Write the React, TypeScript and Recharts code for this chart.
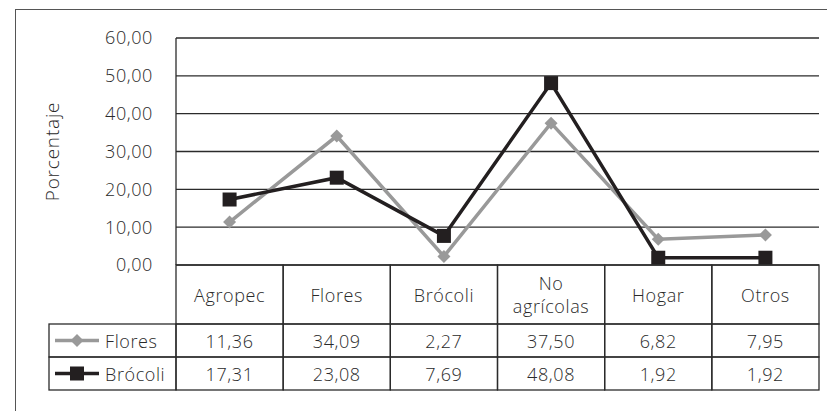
import { CartesianGrid, Line, LineChart, XAxis, YAxis } from "recharts";

const categories = ["Agropec", "Flores", "Brócoli", "No agrícolas", "Hogar", "Otros"];
const floresValues = [11.36, 34.09, 2.27, 37.5, 6.82, 7.95];
const brocoliValues = [17.31, 23.08, 7.69, 48.08, 1.92, 1.92];
const yTicks = [0, 10, 20, 30, 40, 50, 60];

const series = [
  { key: "flores", name: "Flores", values: floresValues, color: "#999999", marker: "diamond" },
  { key: "brocoli", name: "Brócoli", values: brocoliValues, color: "#231f20", marker: "square" }
];

const data = categories.map((label, i) => ({
  label,
  flores: floresValues[i],
  brocoli: brocoliValues[i]
}));

const WIDTH = 827;
const HEIGHT = 411;
const PLOT_LEFT = 176;
const PLOT_TOP = 38;
const PLOT_RIGHT = 8;
const PLOT_BOTTOM = 265;
const PLOT_W = WIDTH - PLOT_LEFT - PLOT_RIGHT;
const COL_W = PLOT_W / categories.length;
const HEADER_H = 59;
const ROW_H = 33;
const LEGEND_W = 127;
const LINE = "#2b2b2b";
const TEXT = "#2a2a2a";
const FONT = 18;
const SPACING = 0.6;

const fmt = (v: number) => v.toFixed(2).replace(".", ",");

const textStyle = { fontSize: FONT, fill: TEXT, letterSpacing: SPACING, fontWeight: 300 };

function Diamond({ cx, cy, color, r = 6.5 }: { cx: number; cy: number; color: string; r?: number }) {
  return (
    <polygon
      points={`${cx},${cy - r} ${cx + r},${cy} ${cx},${cy + r} ${cx - r},${cy}`}
      fill={color}
    />
  );
}

function Square({ cx, cy, color, s = 14 }: { cx: number; cy: number; color: string; s?: number }) {
  return <rect x={cx - s / 2} y={cy - s / 2} width={s} height={s} fill={color} />;
}

function Marker({ type, cx, cy, color }: { type: string; cx: number; cy: number; color: string }) {
  return type === "diamond" ? <Diamond cx={cx} cy={cy} color={color} /> : <Square cx={cx} cy={cy} color={color} />;
}

// each x tick draws its own column of the data table; the first one also draws the legend column
function TableColumn(props: any) {
  const { x, index, payload } = props;
  const left = x - COL_W / 2;
  const top = PLOT_BOTTOM;
  const words = String(payload.value).split(" ");
  const headerMid = top + HEADER_H / 2;

  return (
    <g>
      <rect x={left} y={top} width={COL_W} height={HEADER_H} fill="none" stroke={LINE} strokeWidth={1.3} />
      {words.map((w, j) => (
        <text
          key={w}
          x={x}
          y={headerMid + (j - (words.length - 1) / 2) * 23}
          textAnchor="middle"
          dominantBaseline="central"
          style={textStyle}
        >
          {w}
        </text>
      ))}
      {series.map((s, r) => {
        const rowTop = top + HEADER_H + r * ROW_H;
        const mid = rowTop + ROW_H / 2;
        return (
          <g key={s.key}>
            <rect x={left} y={rowTop} width={COL_W} height={ROW_H} fill="none" stroke={LINE} strokeWidth={1.3} />
            <text x={x} y={mid} textAnchor="middle" dominantBaseline="central" style={textStyle}>
              {fmt(s.values[index])}
            </text>
            {index === 0 && (
              <g>
                <rect
                  x={left - LEGEND_W}
                  y={rowTop}
                  width={LEGEND_W}
                  height={ROW_H}
                  fill="none"
                  stroke={LINE}
                  strokeWidth={1.3}
                />
                <line
                  x1={left - LEGEND_W + 6}
                  x2={left - LEGEND_W + 50}
                  y1={mid}
                  y2={mid}
                  stroke={s.color}
                  strokeWidth={3.5}
                />
                <Marker type={s.marker} cx={left - LEGEND_W + 28} cy={mid} color={s.color} />
                <text x={left - LEGEND_W + 56} y={mid} dominantBaseline="central" style={textStyle}>
                  {s.name}
                </text>
              </g>
            )}
          </g>
        );
      })}
    </g>
  );
}

export default function App() {
  return (
    <div
      style={{
        position: "fixed",
        left: 0,
        top: 0,
        width: WIDTH,
        height: HEIGHT,
        overflow: "hidden",
        background: "#fff",
        fontFamily: "'Open Sans', sans-serif"
      }}
    >
      <div
        style={{
          position: "absolute",
          left: 15,
          top: 9,
          width: 900,
          height: 500,
          border: "1.5px solid #555"
        }}
      />
      <LineChart
        width={WIDTH}
        height={HEIGHT}
        data={data}
        margin={{ top: PLOT_TOP, right: PLOT_RIGHT, bottom: 0, left: 0 }}
        style={{ position: "absolute", left: 0, top: 0 }}
      >
        <CartesianGrid vertical={false} stroke={LINE} strokeWidth={1.3} />
        <XAxis
          dataKey="label"
          height={HEIGHT - PLOT_BOTTOM}
          axisLine={false}
          tickLine={false}
          interval={0}
          padding={{ left: COL_W / 2, right: COL_W / 2 }}
          tick={(p: any) => <TableColumn {...p} />}
        />
        <YAxis
          width={PLOT_LEFT}
          domain={[0, 60]}
          ticks={yTicks}
          tickFormatter={fmt}
          tickLine={false}
          axisLine={{ stroke: LINE, strokeWidth: 1.3 }}
          tickMargin={17}
          tick={textStyle}
          label={{
            content: ({ viewBox }: any) => {
              const cy = viewBox.y + viewBox.height / 2;
              return (
                <text
                  x={52}
                  y={cy}
                  transform={`rotate(-90, 52, ${cy})`}
                  textAnchor="middle"
                  dominantBaseline="central"
                  style={{ ...textStyle, fontSize: 19, letterSpacing: 0.8 }}
                >
                  Porcentaje
                </text>
              );
            }
          }}
        />
        {series.map((s) => (
          <Line
            key={s.key}
            dataKey={s.key}
            name={s.name}
            type="linear"
            stroke={s.color}
            strokeWidth={3.5}
            dot={(p: any) => <Marker key={`${s.key}-${p.index}`} type={s.marker} cx={p.cx} cy={p.cy} color={s.color} />}
            activeDot={false}
            isAnimationActive={false}
          />
        ))}
      </LineChart>
    </div>
  );
}
